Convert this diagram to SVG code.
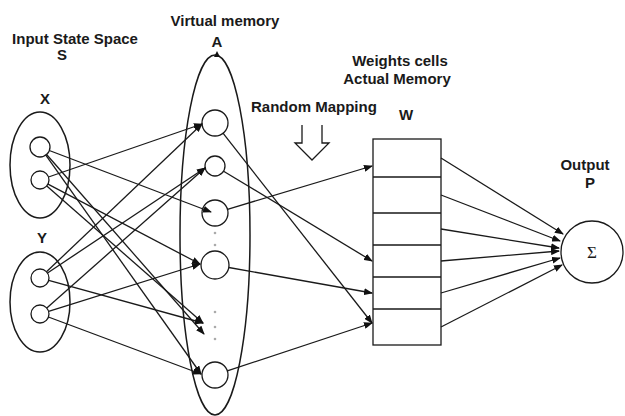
<svg xmlns="http://www.w3.org/2000/svg" width="625" height="416" viewBox="0 0 625 416">
<style>
.t{font-family:"Liberation Sans",Arial,sans-serif;font-weight:bold;font-size:15px;fill:#1a1a1a}
.s{fill:none;stroke:#1a1a1a;stroke-width:1.3}
.c{fill:#fff;stroke:#1a1a1a;stroke-width:1.3}
.e{fill:none;stroke:#1a1a1a;stroke-width:1.5}
.dot{fill:#aaa}
</style>
<defs>
<marker id="ah" markerUnits="userSpaceOnUse" markerWidth="9" markerHeight="7" refX="8" refY="3.5" orient="auto">
<path d="M0,0 L9,3.5 L0,7 z" fill="#111"/>
</marker>
</defs>
<rect width="625" height="416" fill="#fff"/>

<g id="labels">
<text class="t" x="75" y="44" text-anchor="middle">Input State Space</text>
<text class="t" x="62" y="60" text-anchor="middle">S</text>
<text class="t" x="225" y="26" text-anchor="middle">Virtual memory</text>
<text class="t" x="217" y="47" text-anchor="middle">A</text>
<text class="t" x="251" y="112">Random Mapping</text>
<text class="t" x="400" y="66" text-anchor="middle">Weights cells</text>
<text class="t" x="397" y="84" text-anchor="middle">Actual Memory</text>
<text class="t" x="406" y="120" text-anchor="middle">W</text>
<text class="t" x="585" y="170" text-anchor="middle">Output</text>
<text class="t" x="590" y="188" text-anchor="middle">P</text>
</g>

<g id="mapping-arrow">
<path class="s" d="M302,125 V143 H295 L312,160 L329,143 H322 V125"/>
</g>

<g id="X">
<text class="t" x="45" y="104" text-anchor="middle">X</text>
<ellipse class="e" cx="40" cy="165" rx="30" ry="53"/>
<circle class="c" cx="40" cy="147" r="10"/>
<circle class="c" cx="40" cy="180" r="9"/>
</g>

<g id="Y">
<text class="t" x="42" y="243" text-anchor="middle">Y</text>
<ellipse class="e" cx="40" cy="302" rx="30" ry="50"/>
<circle class="c" cx="40" cy="278" r="9"/>
<circle class="c" cx="40" cy="314" r="9"/>
</g>

<g id="A">
<ellipse class="e" cx="215" cy="235" rx="35" ry="180"/>
<path d="M214,57 L217,51 L220,57 z" fill="#111"/>
<circle class="c" cx="215" cy="123" r="13"/>
<circle class="c" cx="215" cy="166" r="10"/>
<circle class="c" cx="215" cy="213" r="13"/>
<circle class="c" cx="215" cy="265" r="14"/>
<circle class="c" cx="215" cy="375" r="13"/>
<circle class="dot" cx="215" cy="233" r="1.3"/>
<circle class="dot" cx="215" cy="245" r="1.3"/>
<circle class="dot" cx="215" cy="312" r="1.3"/>
<circle class="dot" cx="215" cy="327" r="1.3"/>
<circle class="dot" cx="215" cy="339" r="1.3"/>
</g>

<g id="W">
<rect class="c" x="373" y="139" width="68" height="206"/>
<path class="s" d="M373,177 H441 M373,213 H441 M373,245 H441 M373,277 H441 M373,309 H441"/>
</g>

<g id="P">
<circle class="c" cx="592" cy="252" r="31"/>
<text x="592" y="258" text-anchor="middle" font-family="'Liberation Serif','DejaVu Serif',serif" font-size="17" fill="#1a1a1a">Σ</text>
</g>

<g id="connectors" class="s" marker-end="url(#ah)">
<line x1="49.3" y1="150.5" x2="211" y2="212"/>
<line x1="46.6" y1="154.5" x2="204" y2="334"/>
<line x1="45.8" y1="155.2" x2="201" y2="374"/>
<line x1="48.5" y1="177" x2="202" y2="124"/>
<line x1="48" y1="184.2" x2="200" y2="264"/>
<line x1="46.8" y1="186" x2="203" y2="323"/>
<line x1="46.5" y1="271.8" x2="202" y2="124"/>
<line x1="47.5" y1="273" x2="205" y2="168"/>
<line x1="48.7" y1="280.4" x2="203" y2="323"/>
<line x1="46.8" y1="308" x2="205" y2="168"/>
<line x1="48.6" y1="311.3" x2="200" y2="264"/>
<line x1="48.4" y1="317" x2="201" y2="374"/>
<line x1="223" y1="133.2" x2="372" y2="323"/>
<line x1="223.6" y1="171.2" x2="372" y2="261"/>
<line x1="227.5" y1="209.3" x2="372" y2="166"/>
<line x1="228.8" y1="267.5" x2="372" y2="293"/>
<line x1="227.3" y1="370.9" x2="372" y2="323"/>
<line x1="441" y1="158" x2="563" y2="234"/>
<line x1="441" y1="195" x2="560" y2="241"/>
<line x1="441" y1="229" x2="559" y2="248"/>
<line x1="441" y1="261" x2="559" y2="251"/>
<line x1="441" y1="293" x2="560" y2="258"/>
<line x1="441" y1="327" x2="562" y2="265"/>
</g>
</svg>
